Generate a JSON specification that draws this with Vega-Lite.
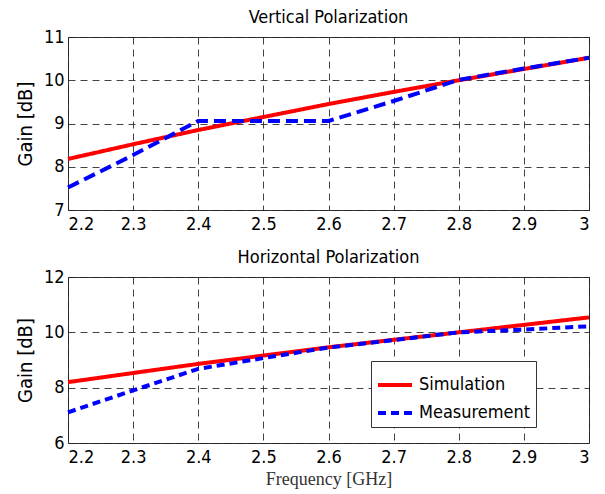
{
  "$schema": "https://vega.github.io/schema/vega-lite/v6.json",
  "background": "white",
  "padding": {"left": 14, "top": 8, "right": 5, "bottom": 0},
  "datasets": {
    "vert": [
      {"freq": 2.2, "gain": 8.18, "series": "Simulation"},
      {"freq": 2.3, "gain": 8.52, "series": "Simulation"},
      {"freq": 2.4, "gain": 8.85, "series": "Simulation"},
      {"freq": 2.5, "gain": 9.15, "series": "Simulation"},
      {"freq": 2.6, "gain": 9.45, "series": "Simulation"},
      {"freq": 2.7, "gain": 9.73, "series": "Simulation"},
      {"freq": 2.8, "gain": 10.0, "series": "Simulation"},
      {"freq": 2.9, "gain": 10.26, "series": "Simulation"},
      {"freq": 3.0, "gain": 10.52, "series": "Simulation"},
      {"freq": 2.2, "gain": 7.52, "series": "Measurement"},
      {"freq": 2.3, "gain": 8.27, "series": "Measurement"},
      {"freq": 2.4, "gain": 9.06, "series": "Measurement"},
      {"freq": 2.5, "gain": 9.06, "series": "Measurement"},
      {"freq": 2.6, "gain": 9.06, "series": "Measurement"},
      {"freq": 2.7, "gain": 9.52, "series": "Measurement"},
      {"freq": 2.8, "gain": 10.01, "series": "Measurement"},
      {"freq": 2.9, "gain": 10.27, "series": "Measurement"},
      {"freq": 3.0, "gain": 10.52, "series": "Measurement"}
    ],
    "horiz": [
      {"freq": 2.2, "gain": 8.2, "series": "Simulation"},
      {"freq": 2.3, "gain": 8.53, "series": "Simulation"},
      {"freq": 2.4, "gain": 8.86, "series": "Simulation"},
      {"freq": 2.5, "gain": 9.16, "series": "Simulation"},
      {"freq": 2.6, "gain": 9.46, "series": "Simulation"},
      {"freq": 2.7, "gain": 9.73, "series": "Simulation"},
      {"freq": 2.8, "gain": 10.0, "series": "Simulation"},
      {"freq": 2.9, "gain": 10.27, "series": "Simulation"},
      {"freq": 3.0, "gain": 10.54, "series": "Simulation"},
      {"freq": 2.2, "gain": 7.11, "series": "Measurement"},
      {"freq": 2.3, "gain": 7.9, "series": "Measurement"},
      {"freq": 2.4, "gain": 8.68, "series": "Measurement"},
      {"freq": 2.5, "gain": 9.07, "series": "Measurement"},
      {"freq": 2.6, "gain": 9.45, "series": "Measurement"},
      {"freq": 2.7, "gain": 9.72, "series": "Measurement"},
      {"freq": 2.8, "gain": 10.0, "series": "Measurement"},
      {"freq": 2.9, "gain": 10.1, "series": "Measurement"},
      {"freq": 3.0, "gain": 10.22, "series": "Measurement"}
    ]
  },
  "config": {
    "view": {"stroke": "#333", "strokeWidth": 1},
    "font": "DejaVu Sans Condensed",
    "title": {"fontSize": 18, "fontWeight": "normal", "color": "black", "font": "DejaVu Sans Condensed", "offset": 1},
    "axis": {
      "labelFont": "DejaVu Sans Condensed", "labelFontSize": 18, "labelColor": "black",
      "titleFont": "DejaVu Sans Condensed", "titleFontSize": 20, "titleFontWeight": "normal", "titleColor": "black",
      "grid": true, "gridColor": "#222", "gridDash": [7, 5], "gridWidth": 1, "gridOpacity": 0.85,
      "domain": false, "ticks": false
    }
  },
  "vconcat": [
    {
      "title": "Vertical Polarization",
      "width": 521, "height": 173,
      "data": {"name": "vert"},
      "mark": {"type": "line", "strokeWidth": 4},
      "encoding": {
        "x": {"field": "freq", "type": "quantitative", "scale": {"domain": [2.2, 3.0], "nice": false, "zero": false},
              "axis": {"values": [2.2, 2.3, 2.4, 2.5, 2.6, 2.7, 2.8, 2.9, 3.0], "format": "~g", "title": null, "labelPadding": 5}},
        "y": {"field": "gain", "type": "quantitative", "scale": {"domain": [7, 11], "nice": false, "zero": false},
              "axis": {"values": [7, 8, 9, 10, 11], "title": "Gain [dB]", "labelPadding": 4, "titlePadding": 8}},
        "color": {"field": "series", "type": "nominal", "scale": {"domain": ["Simulation", "Measurement"], "range": ["#ff0000", "#0000ff"]}, "legend": null},
        "strokeDash": {"field": "series", "type": "nominal", "scale": {"domain": ["Simulation", "Measurement"], "range": [[1, 0], [12, 6]]}, "legend": null}
      }
    },
    {
      "title": "Horizontal Polarization",
      "width": 521, "height": 166,
      "data": {"name": "horiz"},
      "mark": {"type": "line", "strokeWidth": 4},
      "encoding": {
        "x": {"field": "freq", "type": "quantitative", "scale": {"domain": [2.2, 3.0], "nice": false, "zero": false},
              "axis": {"values": [2.2, 2.3, 2.4, 2.5, 2.6, 2.7, 2.8, 2.9, 3.0], "format": "~g", "title": "Frequency [GHz]", "labelPadding": 5,
                       "titleFont": "Liberation Serif", "titleFontSize": 18, "titleColor": "#333", "titlePadding": 4}},
        "y": {"field": "gain", "type": "quantitative", "scale": {"domain": [6, 12], "nice": false, "zero": false},
              "axis": {"values": [6, 8, 10, 12], "title": "Gain [dB]", "labelPadding": 4, "titlePadding": 8}},
        "color": {"field": "series", "type": "nominal", "scale": {"domain": ["Simulation", "Measurement"], "range": ["#ff0000", "#0000ff"]},
                  "legend": {"title": null, "orient": "none", "legendX": 303, "legendY": 84, "symbolType": "stroke", "symbolStrokeWidth": 4, "symbolSize": 1156,
                             "labelFont": "DejaVu Sans Condensed", "labelFontSize": 18, "labelColor": "black", "labelOffset": 5, "strokeColor": "#333", "fillColor": "white", "padding": 5, "rowPadding": -8}},
        "strokeDash": {"field": "series", "type": "nominal", "scale": {"domain": ["Simulation", "Measurement"], "range": [[1, 0], [8, 5]]},
                  "legend": {"title": null, "orient": "none", "legendX": 303, "legendY": 84, "symbolType": "stroke", "symbolStrokeWidth": 4, "symbolSize": 1156,
                             "labelFont": "DejaVu Sans Condensed", "labelFontSize": 18, "labelColor": "black", "labelOffset": 5, "strokeColor": "#333", "fillColor": "white", "padding": 5, "rowPadding": -8}}
      }
    }
  ],
  "spacing": 14,
  "resolve": {"scale": {"y": "independent", "strokeDash": "independent"}, "legend": {"color": "independent", "strokeDash": "independent"}}
}
